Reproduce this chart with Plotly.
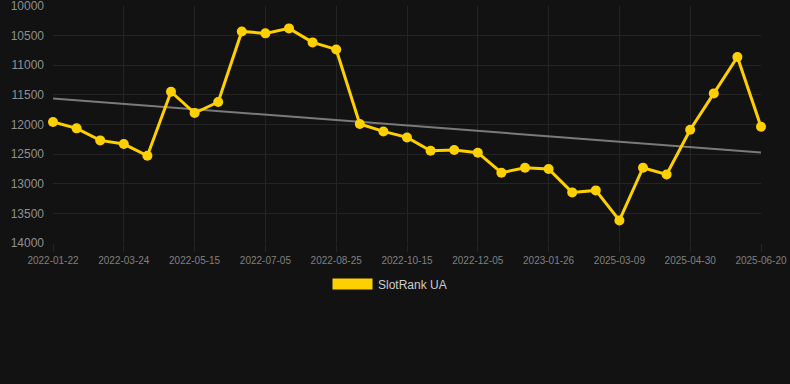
import numpy as np
import plotly.graph_objects as go

dates = ["2022-01-22", "2022-02-08", "2022-02-25", "2022-03-24", "2022-04-10", "2022-04-28",
         "2022-05-15", "2022-06-01", "2022-06-18", "2022-07-05", "2022-07-22", "2022-08-08",
         "2022-08-25", "2022-09-11", "2022-09-28", "2022-10-15", "2022-11-01", "2022-11-18",
         "2022-12-05", "2022-12-22", "2023-01-09", "2023-01-26", "2025-02-01", "2025-02-18",
         "2025-03-09", "2025-03-26", "2025-04-13", "2025-04-30", "2025-05-17", "2025-06-03",
         "2025-06-20"]
ranks = [11958, 12065, 12268, 12330, 12527, 11447, 11806, 11620, 10429, 10462, 10378,
         10614, 10733, 11992, 12117, 12218, 12443, 12431, 12476, 12814, 12730, 12751,
         13146, 13112, 13619, 12730, 12843, 12088, 11475, 10861, 12037]
tick_labels = dates[::3]
y_ticks = [10000, 10500, 11000, 11500, 12000, 12500, 13000, 13500, 14000]
series_name = "SlotRank UA"

idx = np.arange(len(ranks))
coef = np.polyfit(idx, ranks, 1)
trend = np.polyval(coef, idx)

bg = "#121212"
grid = "#242424"
gold = "#FFD000"

L, R, T, B = 53, 29, 6, 141
PW, PH = 790 - L - R, 384 - T - B

fig = go.Figure()
fig.add_trace(go.Scatter(x=dates, y=trend, mode="lines",
                         line=dict(color="#7a7a7a", width=2), showlegend=False,
                         hoverinfo="skip"))
fig.add_trace(go.Scatter(x=dates, y=ranks, mode="lines+markers", name=series_name,
                         line=dict(color=gold, width=3), cliponaxis=False,
                         marker=dict(color=gold, size=10), showlegend=False))

fig.update_layout(
    width=790, height=384, autosize=False,
    margin=dict(l=L, r=R, t=T, b=B),
    paper_bgcolor=bg, plot_bgcolor=bg,
    font=dict(family="Liberation Sans, Arial, sans-serif", color="#8a8a8a"),
    xaxis=dict(type="category", tickmode="array", tickvals=tick_labels, ticktext=tick_labels,
               range=[0, len(dates) - 1], showgrid=True, gridcolor=grid, gridwidth=1,
               ticks="outside", ticklen=8, tickcolor=grid, tickfont=dict(size=10, color="#808080"),
               showline=False, zeroline=False, automargin=False, ticklabeloverflow="allow"),
    yaxis=dict(range=[14000, 10000], tickvals=y_ticks, tickformat="d", showgrid=True,
               gridcolor=grid, gridwidth=1, tickfont=dict(size=12, color="#8f8f8f"),
               zeroline=False, showline=False, ticks="", ticklabelstandoff=8,
               automargin=False, ticklabeloverflow="allow"),
    showlegend=False,
)

# legend drawn manually
fig.add_shape(type="rect", xref="paper", yref="paper",
              x0=(332.5 - L) / PW, x1=(372.5 - L) / PW,
              y0=(384 - B - 278.5) / PH, y1=(384 - B - 289.5) / PH,
              fillcolor=gold, line=dict(width=0))
fig.add_annotation(xref="paper", yref="paper", x=(376 - L) / PW, y=(384 - B - 284.5) / PH,
                   text=series_name, showarrow=False, xanchor="left", yanchor="middle",
                   font=dict(size=12, color="#cccccc"))

fig.write_html("out.html", config={"responsive": False, "displayModeBar": False},
               post_script="document.body.style.margin='0';document.body.style.background='#121212';document.documentElement.style.background='#121212';")
